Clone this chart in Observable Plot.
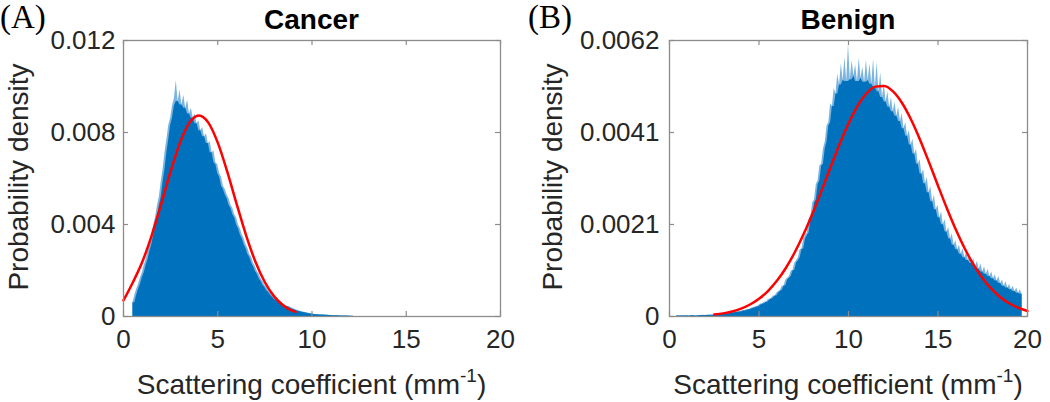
<!DOCTYPE html>
<html><head><meta charset="utf-8">
<script src="https://cdn.jsdelivr.net/npm/d3@7"></script>
<script src="https://cdn.jsdelivr.net/npm/@observablehq/plot@0.6"></script>
<style>
html,body{margin:0;padding:0;background:#fff;}
#wrap{display:flex;width:1050px;height:402px;overflow:hidden;}
#wrap svg{display:block;flex:none;}
</style></head><body><div id="wrap"></div>
<script>
// ---------- data ----------
const xTicks = [0, 5, 10, 15, 20];
const xTickLabels = ["0", "5", "10", "15", "20"];
const binWidth = 0.1;

// Cancer histogram (probability density per bin, bins start at 0.5 mm^-1)
const cancerStart = 0.5;
const cancerDensity = [
  0.00060,0.00092,0.00118,0.00140,0.00168,0.00190,0.00222,0.00248,0.00284,0.00312,
  0.00352,0.00395,0.00430,0.00482,0.00520,0.00585,0.00640,0.00712,0.00768,0.00830,
  0.00862,0.00915,0.00948,0.01025,0.00935,0.00985,0.00920,0.00962,0.00905,0.00940,
  0.00880,0.00905,0.00862,0.00880,0.00838,0.00850,0.00808,0.00822,0.00782,0.00795,
  0.00752,0.00760,0.00712,0.00720,0.00668,0.00660,0.00622,0.00605,0.00566,0.00552,
  0.00528,0.00512,0.00484,0.00470,0.00442,0.00428,0.00398,0.00382,0.00354,0.00338,
  0.00312,0.00296,0.00270,0.00256,0.00232,0.00216,0.00196,0.00184,0.00164,0.00152,
  0.00136,0.00126,0.00112,0.00104,0.00092,0.00084,0.00074,0.00070,0.00062,0.00058,
  0.00052,0.00050,0.00044,0.00043,0.00038,0.00035,0.00030,0.00028,0.00024,0.00023,
  0.00020,0.00019,0.00016,0.00015,0.00012,0.00012,0.00010,0.00009,0.00008,0.00008,
  0.00007,0.00006,0.00006,0.00005,0.00005,0.00004,0.00004,0.00003,0.00003,0.00003,
  0.00003,0.00002,0.00002,0.00002,0.00002,0.00002,0.00001,0.00001
];
// Cancer fitted normal curve
const cancerFitX = [0,0.5,1,1.5,2,2.5,3,3.5,4,4.5,5,5.5,6,6.5,7,7.5,8,8.5,9,9.13];
const cancerFitY = [0.00070,0.00149,0.00238,0.00354,0.00490,0.00631,0.00756,0.00843,0.00874,0.00843,
  0.00756,0.00631,0.00490,0.00354,0.00238,0.00149,0.000865,0.000469,0.000236,0.00020];
const cancerYTicks = [0, 0.004, 0.008, 0.012];
const cancerYLabels = ["0", "0.004", "0.008", "0.012"];

// Benign histogram (bins start at 0.4 mm^-1)
const benignStart = 0.4;
const benignDensity = [
  0.00001,0.00002,0.00001,0.00002,0.00001,0.00002,0.00002,0.00001,0.00002,0.00002,
  0.00002,0.00001,0.00002,0.00002,0.00002,0.00003,0.00002,0.00003,0.00003,0.00003,
  0.00003,0.00004,0.00003,0.00004,0.00004,0.00005,0.00005,0.00006,0.00005,0.00007,
  0.00007,0.00008,0.00009,0.00009,0.00011,0.00010,0.00012,0.00013,0.00013,0.00015,
  0.00015,0.00017,0.00019,0.00019,0.00022,0.00022,0.00025,0.00028,0.00028,0.00032,
  0.00032,0.00037,0.00039,0.00041,0.00046,0.00046,0.00053,0.00056,0.00059,0.00068,
  0.00069,0.00082,0.00086,0.00090,0.00102,0.00104,0.00120,0.00125,0.00132,0.00150,
  0.00152,0.00174,0.00182,0.00188,0.00218,0.00224,0.00255,0.00262,0.00296,0.00305,
  0.00338,0.00342,0.00376,0.00392,0.00428,0.00436,0.00478,0.00472,0.00512,0.00500,
  0.00545,0.00520,0.00568,0.00530,0.00582,0.00528,0.00612,0.00532,0.00575,0.00540,
  0.00565,0.00528,0.00580,0.00535,0.00560,0.00526,0.00576,0.00530,0.00568,0.00522,
  0.00578,0.00515,0.00570,0.00505,0.00548,0.00492,0.00522,0.00482,0.00505,0.00470,
  0.00492,0.00460,0.00482,0.00450,0.00470,0.00438,0.00456,0.00422,0.00436,0.00405,
  0.00418,0.00385,0.00398,0.00365,0.00375,0.00342,0.00352,0.00320,0.00330,0.00298,
  0.00312,0.00278,0.00292,0.00258,0.00272,0.00240,0.00250,0.00222,0.00235,0.00206,
  0.00218,0.00190,0.00200,0.00174,0.00186,0.00160,0.00170,0.00150,0.00160,0.00140,
  0.00152,0.00132,0.00144,0.00126,0.00136,0.00119,0.00130,0.00112,0.00124,0.00106,
  0.00118,0.00100,0.00112,0.00095,0.00106,0.00090,0.00100,0.00085,0.00094,0.00080,
  0.00090,0.00074,0.00082,0.00068,0.00078,0.00064,0.00072,0.00060,0.00068,0.00056,
  0.00064,0.00052,0.00060,0.00050
];
// Benign fitted normal curve
const benignFitX = [2.5,3,3.5,4,4.5,5,5.5,6,6.5,7,7.5,8,8.5,9,9.5,10,10.5,11,11.5,12,
  12.5,13,13.5,14,14.5,15,15.5,16,16.5,17,17.5,18,18.5,19,19.5,20];
const benignFitY = [0.0000425,0.0000703,0.000113,0.000177,0.000269,0.000398,0.000572,0.000801,0.001090,0.001443,
  0.001858,0.002327,0.002834,0.003357,0.003869,0.004335,0.004725,0.005009,0.005164,0.005178,
  0.005050,0.004791,0.004420,0.003966,0.003462,0.002938,0.002426,0.001948,0.001521,0.001155,
  0.000854,0.000613,0.000429,0.000291,0.000193,0.000124];
const benignYTicks = [0, 0.002067, 0.004133, 0.0062];
const benignYLabels = ["0", "0.0021", "0.0041", "0.0062"];

// ---------- drawing ----------
const BLUE = "#0072BD", LIGHT = "#7ab4df", RED = "#ff0000", AXC = "#8c8c8c", TXT = "#262626";
const FONT = "'Liberation Sans', Arial, Helvetica, sans-serif";

function panel(o) {
  const W = 525, H = 402, mt = 40, mb = 86;
  const innerW = W - o.ml - o.mr, innerH = H - mt - mb;
  const hist = o.density.map((v, i) => ({x: +(o.start + i * binWidth).toFixed(2), y: v}));
  const fit = o.fitX.map((x, i) => ({x, y: o.fitY[i]}));
  const svg = Plot.plot({
    width: W, height: H,
    marginLeft: o.ml, marginRight: o.mr, marginTop: mt, marginBottom: mb,
    x: {domain: [0, 20]},
    y: {domain: [0, o.yMax]},
    style: {fontFamily: FONT, color: TXT, background: "white", overflow: "visible"},
    marks: [
      Plot.areaY(hist, {x: "x", y: "y", fill: LIGHT, curve: "linear"}),
      Plot.areaY(hist, Plot.windowY({k: 3, reduce: "min"}, {x: "x", y: "y", fill: BLUE, curve: "linear"})),
      Plot.line(fit, {x: "x", y: "y", stroke: RED, strokeWidth: 2.5, curve: "monotone-x"}),
      Plot.frame({stroke: AXC, strokeWidth: 1.3}),
      Plot.tickX(xTicks, {x: d => d, insetTop: innerH - 5, stroke: AXC, strokeWidth: 1.2}),
      Plot.tickX(xTicks, {x: d => d, insetBottom: innerH - 5, stroke: AXC, strokeWidth: 1.2}),
      Plot.tickY(o.yTicks, {y: d => d, insetRight: innerW - 5, stroke: AXC, strokeWidth: 1.2}),
      Plot.tickY(o.yTicks, {y: d => d, insetLeft: innerW - 5, stroke: AXC, strokeWidth: 1.2}),
      Plot.axisX({ticks: xTicks, tickFormat: d => xTickLabels[xTicks.indexOf(d)], tickSize: 0,
        tickPadding: 13, label: null, fontSize: 26, fill: TXT}),
      Plot.axisY({ticks: o.yTicks, tickFormat: d => o.yLabels[o.yTicks.indexOf(d)], tickSize: 0,
        tickPadding: o.yPad, label: null, fontSize: 26, fill: TXT})
    ]
  });
  const s = d3.select(svg);
  const cx = o.ml + innerW / 2;
  // title
  s.append("text").attr("x", cx).attr("y", 29).attr("text-anchor", "middle")
    .attr("font-family", FONT).attr("font-weight", "bold").attr("font-size", 28).attr("fill", "#000")
    .text(o.title);
  // panel tag
  s.append("text").attr("x", o.tagX).attr("y", 28).attr("text-anchor", "start")
    .attr("font-family", "'Liberation Serif', 'Times New Roman', serif").attr("font-size", 33).attr("fill", "#000")
    .text(o.tag);
  // y label
  s.append("text").attr("transform", `translate(${o.ylabX},177) rotate(-90)`).attr("text-anchor", "middle")
    .attr("font-family", FONT).attr("font-size", 28).attr("fill", TXT)
    .text("Probability density");
  // x label with superscript
  const xl = s.append("text").attr("x", cx).attr("y", 394).attr("text-anchor", "middle")
    .attr("font-family", FONT).attr("font-size", 28).attr("fill", TXT);
  xl.append("tspan").text("Scattering coefficient (mm");
  xl.append("tspan").attr("dy", -12).attr("font-size", 19).text("-1");
  xl.append("tspan").attr("dy", 12).text(")");
  return svg;
}

const wrap = document.getElementById("wrap");
wrap.appendChild(panel({
  density: cancerDensity, start: cancerStart, fitX: cancerFitX, fitY: cancerFitY,
  yTicks: cancerYTicks, yLabels: cancerYLabels, yMax: 0.012,
  ml: 123, mr: 25, yPad: 8, title: "Cancer", tag: "(A)", tagX: 0, ylabX: 28
}));
wrap.appendChild(panel({
  density: benignDensity, start: benignStart, fitX: benignFitX, fitY: benignFitY,
  yTicks: benignYTicks, yLabels: benignYLabels, yMax: 0.0062,
  ml: 144, mr: 23, yPad: 10, title: "Benign", tag: "(B)", tagX: 3, ylabX: 37
}));
</script>
</body></html>
